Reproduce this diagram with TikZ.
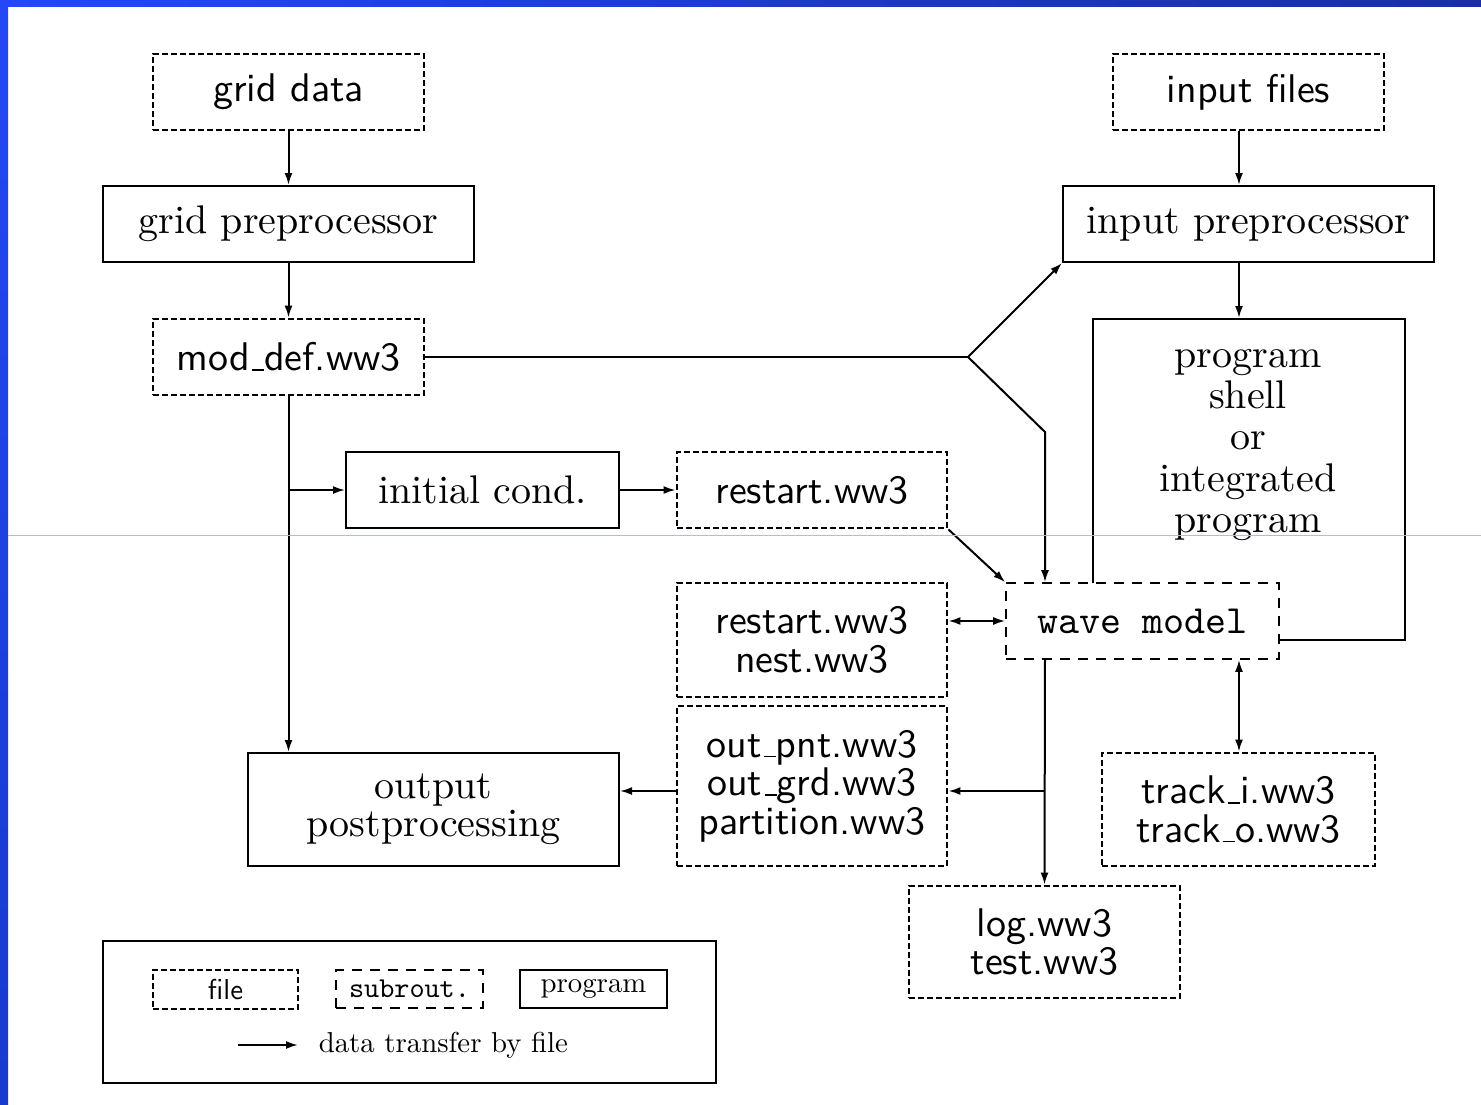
\documentclass[tikz,border=0pt]{standalone}
\usetikzlibrary{arrows.meta}
\definecolor{slideblue}{RGB}{36,72,245}
\definecolor{slidedark}{RGB}{22,46,170}
\definecolor{slidemid}{RGB}{24,58,205}
\definecolor{scanline}{RGB}{172,186,236}
\newcommand\us{\leavevmode\kern.06em\vbox{\hrule width.3em}}
\newcommand\legtxt[1]{\scalebox{0.72}{#1}}
\tikzset{
  basebox/.style={inner sep=0pt, align=center, line width=0.5pt},
  filebox/.style={basebox, draw, line width=0.7pt, dash pattern=on 1.5pt off 0.75pt,
    font=\sffamily\fontsize{10}{9.6}\selectfont},
  subbox/.style={basebox, draw, line width=0.4pt, dash pattern=on 2.5pt off 2pt,
    fill=white, font=\ttfamily\fontsize{10}{9.6}\selectfont},
  progbox/.style={basebox, draw, font=\rmfamily\fontsize{10}{9.6}\selectfont},
  wh/.style 2 args={minimum width=#1*0.25pt, minimum height=#2*0.25pt},
  link/.style={line width=0.5pt, ->},
}
\begin{document}
\begin{tikzpicture}[x=0.25pt, y=-0.25pt, >={Latex[length=3pt,width=2pt]}]
  % page and slide border
  \useasboundingbox (0,0) rectangle (1481,1105);
  \fill[white] (0,0) rectangle (1481,1105);
  \shade[top color=slideblue, bottom color=slidemid] (0,0) rectangle (8,1105);
  \shade[left color=slideblue, right color=slidedark] (0,0) rectangle (1481,6);

  % files and programs
  \node[filebox, wh={271}{76}] (griddata) at (288.5,92) {grid data};
  \node[filebox, wh={271}{76}] (inputfiles) at (1248.5,92) {input files};
  \node[progbox, wh={371}{76}] (gridpre) at (288.5,224) {grid preprocessor};
  \node[progbox, wh={371}{76}] (inputpre) at (1248.5,224) {input preprocessor};
  \node[filebox, wh={271}{76}] (moddef) at (288.5,357) {mod\us def.ww3};
  \node[progbox, wh={273}{76}] (initcond) at (482.5,490) {initial cond.};
  \node[filebox, wh={270}{76}] (restart) at (812,490) {restart.ww3};
  \node[filebox, wh={270}{114}] (restnest) at (812,640) {restart.ww3\\nest.ww3};
  \node[filebox, wh={270}{160}] (outfiles) at (812,786) {out\us pnt.ww3\\out\us grd.ww3\\partition.ww3};
  \node[progbox, wh={371}{113}] (outpost) at (433.5,809.5) {output\\postprocessing};

  % shell round the wave model
  \node[progbox, wh={312}{321}] (shell) at (1249,479.5) {};
  \node[font=\rmfamily\fontsize{10}{10.3}\selectfont, align=center] (shelltext) at (1248,445)
    {program\\shell\\or\\integrated\\program};
  \node[subbox, wh={273}{76}] (wave) at (1142.5,621) {wave model};
  \node[filebox, wh={273}{113}] (track) at (1238.5,809.5) {track\us i.ww3\\track\us o.ww3};
  \node[filebox, wh={271}{112}] (logfiles) at (1044.5,942) {log.ww3\\test.ww3};

  % bends and columns
  \coordinate (fork) at (968,357);
  \coordinate (bend) at (1045,432);
  \coordinate (col) at (1239,0);
  \coordinate (outrow) at (0,791);

  % data transfer
  \draw[link] (griddata) -- (gridpre);
  \draw[link] (gridpre) -- (moddef);
  \draw[link] (inputfiles.south -| col) -- (inputpre.north -| col);
  \draw[link] (inputpre.south -| col) -- (shell.north -| col);
  \draw[line width=0.5pt] (moddef.east) -- (fork);
  \draw[link] (fork) -- (inputpre.south west);
  \draw[link] (fork) -- (bend) -- (wave.north -| bend);
  \draw[link] (moddef.south) -- (moddef |- outpost.north);
  \draw[link] (moddef |- initcond) -- (initcond.west);
  \draw[link] (initcond) -- (restart);
  \draw[link] (restart.south east) -- (wave.north west);
  \draw[link, <->] (wave.west) -- (wave.west -| restnest.east);
  \draw[link] (wave.south -| bend) -- (logfiles.north);
  \draw[link] (outrow -| bend) -- (outrow -| outfiles.east);
  \draw[link] (outrow -| outfiles.west) -- (outrow -| outpost.east);
  \draw[link, <->] (wave.south -| col) -- (track.north -| col);

  % legend
  \node[draw, line width=0.5pt, wh={613}{142}] (legend) at (409.5,1012) {};
  \node[filebox, wh={145}{39}] (legfile) at (225.5,989.5) {\legtxt{file}};
  \node[subbox, wh={147}{38}] (legsub) at (409.5,989) {\legtxt{subrout.}};
  \node[progbox, wh={147}{38}] (legprog) at (593.5,989) {\raisebox{1pt}{\legtxt{program}}};
  \coordinate (legfrom) at (238,1045);
  \coordinate (legto) at (298,1045);
  \draw[link] (legfrom) -- (legto);
  \node[anchor=west, inner sep=0pt] (legtext) at (318,1045) {\legtxt{data transfer by file}};

  % faint scan line of the slide
  \draw[scanline, line width=0.25pt] (8,535) -- (1481,535);
\end{tikzpicture}
\end{document}
